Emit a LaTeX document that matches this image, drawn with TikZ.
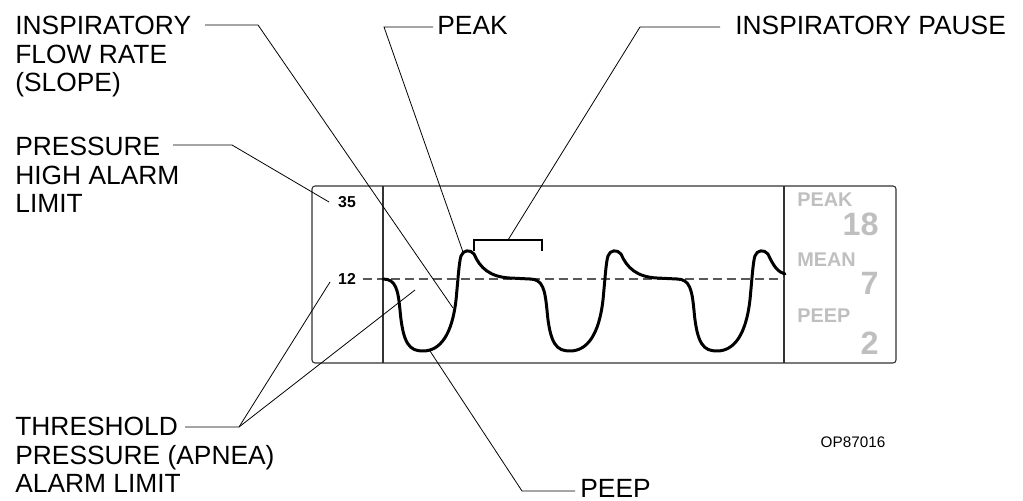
\documentclass[tikz,border=0pt]{standalone}
\usepackage{fontspec}
\setmainfont{Liberation Sans}
\usetikzlibrary{positioning, calc}

\begin{document}
\begin{tikzpicture}[x=0.02cm, y=-0.02cm, every node/.style={inner sep=0pt},
    callout/.style={font=\fontsize{15}{16.2}\selectfont, align=left},
    leader/.style={line width=0.45pt},
    scalelbl/.style={font=\fontsize{9}{10}\selectfont\bfseries},
    readout/.style={font=\fontsize{11.3}{12}\selectfont\bfseries, text=black!25},
    readnum/.style={font=\fontsize{18.4}{20}\selectfont\bfseries, text=black!25},
    trace/.style={line width=1.7pt, line join=round, line cap=round}]
    \useasboundingbox (0,0) rectangle (1023,500);

    % Monitor frame and dividers
    \draw[black!80, line width=0.6pt, rounded corners=1.7pt] (312,186) rectangle (896,363);
    \draw[black!80, line width=0.6pt] (383,186) -- (383,363);
    \draw[black!80, line width=0.6pt] (784,186) -- (784,363);

    % Scale labels
    \node[scalelbl] (hi) at (347,202) {35};
    \node[scalelbl] (thr) at (347,279) {12};
    \draw[black!65, line width=0.6pt, dash pattern=on 0.18cm off 0.1cm] (363,279) -- (784,279);

    % Pressure trace (two full breaths, then the third)
    \foreach \k in {0,1} {
        \draw[trace, xshift=\k*2.94cm] (383,279) .. controls (396,279) and (398,290) .. (400,310)
            .. controls (403,345) and (410,351) .. (423,351)
            .. controls (440,351) and (452,335) .. (456,300)
            .. controls (458,280) and (459,262) .. (461,256)
            .. controls (463,250) and (470,249) .. (474,254)
            .. controls (480,268) and (490,277) .. (510,278)
            -- (530,279);
    }
    \draw[trace, xshift=5.88cm] (383,279) .. controls (396,279) and (398,290) .. (400,310)
        .. controls (403,345) and (410,351) .. (423,351)
        .. controls (440,351) and (452,335) .. (456,300)
        .. controls (458,280) and (459,262) .. (461,256)
        .. controls (463,250) and (470,249) .. (474,254)
        .. controls (480,267) and (484,272) .. (491,274);

    % Pause bracket
    \draw[line width=0.6pt] (474,251) -- (474,240) -- (542,240) -- (542,251);

    % Readouts
    \node[readout, anchor=north west] (rpeak) at (797,192) {PEAK};
    \node[readnum, anchor=north east] (vpeak) at (879,213) {18};
    \node[readout, anchor=north west] (rmean) at (797,252) {MEAN};
    \node[readnum, anchor=north east] (vmean) at (879,272) {7};
    \node[readout, anchor=north west] (rpeep) at (797,308) {PEEP};
    \node[readnum, anchor=north east] (vpeep) at (879,332) {2};
    \node[font=\fontsize{8.7}{10}\selectfont] (code) at (853,442) {OP87016};

    % Callout texts
    \node[callout, anchor=north west] (flow) at (15,16) {INSPIRATORY\\FLOW RATE\\(SLOPE)};
    \node[callout, anchor=north west] (press) at (15,137) {PRESSURE\\HIGH ALARM\\LIMIT};
    \node[callout, anchor=north west] (apnea) at (15,417) {THRESHOLD\\PRESSURE (APNEA)\\ALARM LIMIT};
    \node[callout, anchor=base west] (peak) at (437,35) {PEAK};
    \node[callout, anchor=base west] (pause) at (735,35) {INSPIRATORY PAUSE};
    \node[callout, anchor=base west] (peep) at (580,497) {PEEP};

    % Leader points
    \coordinate (flowA) at (205,25);   \coordinate (flowB) at (258,25);  \coordinate (flowT) at (453,308);
    \coordinate (pressA) at (173,145); \coordinate (pressB) at (232,145); \coordinate (pressT) at (329,202);
    \coordinate (peakA) at (433,27);   \coordinate (peakB) at (384,27);  \coordinate (peakT) at (463,252);
    \coordinate (pauseA) at (720,27);  \coordinate (pauseB) at (640,27); \coordinate (pauseT) at (508,240);
    \coordinate (apneaA) at (185,427); \coordinate (apneaB) at (239,427);
    \coordinate (apneaT) at (330,282); \coordinate (apneaU) at (415,290);
    \coordinate (peepA) at (575,491);  \coordinate (peepB) at (522,491);  \coordinate (peepT) at (430,351);

    % Leaders
    \draw[leader] (flowA) -- (flowB) -- (flowT);
    \draw[leader] (pressA) -- (pressB) -- (pressT);
    \draw[leader] (peakA) -- (peakB) -- (peakT);
    \draw[leader] (pauseA) -- (pauseB) -- (pauseT);
    \draw[leader] (apneaA) -- (apneaB) -- (apneaT);
    \draw[leader] (apneaB) -- (apneaU);
    \draw[leader] (peepA) -- (peepB) -- (peepT);
\end{tikzpicture}
\end{document}
